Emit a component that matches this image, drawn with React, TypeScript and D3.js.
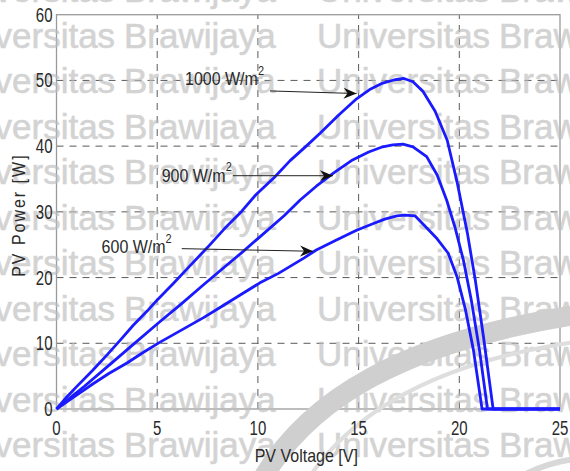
import React from "react";
import * as d3 from "d3";

// ---- data ----
const xTicks = [0, 5, 10, 15, 20, 25];
const yTicks = [0, 10, 20, 30, 40, 50, 60];

const v1000 = [0, 0.5, 1, 1.8, 2.5, 3.2, 3.8, 4.5, 5, 5.8, 6.6, 7.5, 8.3, 9.2, 9.9, 10.8, 11.6, 12.4, 13.1, 14, 14.9, 15.6, 16.2, 16.8, 17.25, 17.7, 18.2, 18.8, 19.4, 19.9, 20.4, 20.8, 21.2, 21.68, 25];
const p1000 = [0, 1.8, 3.4, 5.9, 8.2, 10.6, 12.7, 14.9, 16.6, 19.1, 21.7, 24.6, 27.3, 30.1, 32.6, 35.2, 37.8, 40.0, 42.0, 44.7, 47.2, 48.7, 49.6, 50.1, 50.3, 49.8, 48.3, 45.3, 40.9, 34.4, 26.8, 19.5, 11, 0, 0];

const v900 = [0, 0.6, 1.4, 2.66, 3.8, 5.1, 6.2, 7.3, 8.3, 9.2, 10.1, 11.3, 12.1, 12.9, 13.8, 14.7, 15.5, 16.2, 16.7, 17.2, 17.7, 18.38, 18.9, 19.37, 19.8, 20.2, 20.6, 21.0, 21.4, 25];
const p900 = [0, 1.5, 3.5, 6.8, 9.8, 13.2, 16.0, 18.9, 21.5, 23.8, 26.2, 29.4, 31.8, 33.9, 36.0, 37.9, 39.1, 39.9, 40.2, 40.3, 39.9, 38.4, 35.6, 31.8, 27.5, 22.7, 16.5, 9, 0, 0];

const v600 = [0, 0.8, 1.8, 2.6, 3.5, 4.3, 5.1, 6.2, 7.3, 8.2, 9.1, 10.1, 11.0, 11.6, 12.3, 12.9, 13.9, 14.9, 15.8, 16.3, 16.9, 17.3, 17.8, 18.4, 18.9, 19.45, 19.9, 20.3, 20.7, 21.13, 25];
const p600 = [0, 1.7, 3.8, 5.4, 7.0, 8.6, 10.1, 12.0, 13.9, 15.6, 17.3, 19.2, 20.6, 21.7, 23.0, 24.2, 25.7, 27.2, 28.3, 28.9, 29.4, 29.5, 29.4, 27.5, 25.9, 23.7, 20.0, 15.2, 9.0, 0, 0];

const seriesNames = ["1000 W/m", "900 W/m", "600 W/m"];
// annotation: label start [V,P], arrow start [V,P], arrow tip [V,P]
const labelPos = [[6.38, 49.3], [5.22, 34.6], [2.24, 23.7]];
const arrowFrom = [[10.6, 48.4], [8.76, 35.5], [6.22, 24.4]];
const arrowTo = [[14.9, 48.0], [13.73, 35.5], [12.74, 24.0]];

const W = 570;
const H = 471;
const FONT = "'Liberation Sans', Arial, sans-serif";

export default function App() {
  const x = d3.scaleLinear().domain([0, 25]).range([56.5, 560]);
  const y = d3.scaleLinear().domain([0, 60]).range([409, 14.7]);

  const line = d3
    .line<[number, number]>()
    .x((d) => x(d[0]))
    .y((d) => y(d[1]));

  const series = [
    { v: v1000, p: p1000 },
    { v: v900, p: p900 },
    { v: v600, p: p600 },
  ];

  const gridColor = "#5a5a5a";
  const axisColor = "#9a9a9a";
  const textColor = "#2a2a2a";

  const sy = 1.3; // vertical stretch of chart text

  const wmRows = d3.range(11).map((k) => 2 + 45.5 * k);
  const wmCols = [0, 1];

  return (
    <svg
      width={W}
      height={H}
      style={{ position: "absolute", left: 0, top: 0, background: "#fff" }}
      fontFamily={FONT}
    >
      <defs>
        <marker
          id="arrowhead"
          viewBox="-13 -6 14 12"
          markerWidth={14}
          markerHeight={12}
          refX={0}
          refY={0}
          orient="auto"
          markerUnits="userSpaceOnUse"
        >
          <path d="M0,0 L-13,-5.5 L-9,0 L-13,5.5 Z" fill="#111" />
        </marker>
      </defs>
      <rect x={0} y={0} width={W} height={H} fill="#fff" />

      {/* grid */}
      {xTicks
        .filter((t) => t > 0 && t < 25)
        .map((t) => (
          <line
            key={"gx" + t}
            x1={x(t)}
            x2={x(t)}
            y1={y(0)}
            y2={y(60)}
            stroke={gridColor}
            strokeWidth={1}
            strokeDasharray="7,6"
          />
        ))}
      {yTicks
        .filter((t) => t > 0 && t < 60)
        .map((t) => (
          <line
            key={"gy" + t}
            x1={x(0)}
            x2={x(25)}
            y1={y(t)}
            y2={y(t)}
            stroke={gridColor}
            strokeWidth={1}
            strokeDasharray="7,6"
          />
        ))}

      {/* box */}
      <rect
        x={x(0)}
        y={y(60)}
        width={x(25) - x(0)}
        height={y(0) - y(60)}
        fill="none"
        stroke={axisColor}
        strokeWidth={1.3}
      />

      {/* watermark */}
      <g fill="#bdbdbd" stroke="#bdbdbd" strokeWidth={0.6} opacity={0.66} fontSize={35}>
        {wmRows.map((ry, i) =>
          wmCols.map((c) => (
            <g key={"wm" + i + "-" + c}>
              <text x={-58 + 375 * c} y={ry}>
                Universitas
              </text>
              <text x={124 + 375 * c} y={ry}>
                Brawijaya
              </text>
            </g>
          ))
        )}
      </g>
      <g fill="none" stroke="#cfcfcf">
        <path d="M264,476 C310,400 400,343 575,315" strokeWidth={20} />
        <path d="M310,476 C352,415 432,363 575,342" strokeWidth={4} stroke="#dedede" />
        <path d="M522,476 Q545,463 575,459" strokeWidth={6} stroke="#d8d8d8" />
      </g>

      {/* tick labels */}
      {xTicks.map((t) => (
        <text
          key={"xt" + t}
          transform={`translate(${x(t)},${y(0) + 26}) scale(1,${sy})`}
          textAnchor="middle"
          fontSize={15}
          fill={textColor}
        >
          {t}
        </text>
      ))}
      {yTicks.map((t) => (
        <text
          key={"yt" + t}
          transform={`translate(${x(0) - 4},${y(t) + 7}) scale(1,${sy})`}
          textAnchor="end"
          fontSize={15}
          fill={textColor}
        >
          {t}
        </text>
      ))}

      {/* axis titles */}
      <text
        transform={`translate(${(x(0) + x(25)) / 2 - 2},${y(0) + 53}) scale(1,1.15)`}
        textAnchor="middle"
        fontSize={16}
        fill={textColor}
      >
        PV Voltage [V]
      </text>
      <text
        transform={`translate(25,${y(29.5)}) rotate(-90) scale(1,1.1)`}
        textAnchor="middle"
        fontSize={16}
        letterSpacing={2}
        fill={textColor}
      >
        PV Power [W]
      </text>

      {/* curves */}
      {series.map((s, i) => (
        <path
          key={"s" + i}
          d={line(s.v.map((v, j) => [v, s.p[j]] as [number, number])) || ""}
          fill="none"
          stroke="#1a1aff"
          strokeWidth={2.8}
          strokeLinejoin="round"
        />
      ))}

      {/* annotations */}
      {seriesNames.map((name, i) => (
        <g key={"ann" + i}>
          <text
            transform={`translate(${x(labelPos[i][0])},${y(labelPos[i][1])}) scale(1,1.15)`}
            fontSize={16}
            fill={textColor}
          >
            {name}
            <tspan fontSize={11} dy={-9}>
              2
            </tspan>
          </text>
          <line
            x1={x(arrowFrom[i][0])}
            y1={y(arrowFrom[i][1])}
            x2={x(arrowTo[i][0])}
            y2={y(arrowTo[i][1])}
            stroke="#222"
            strokeWidth={1}
            markerEnd="url(#arrowhead)"
          />
        </g>
      ))}
    </svg>
  );
}
